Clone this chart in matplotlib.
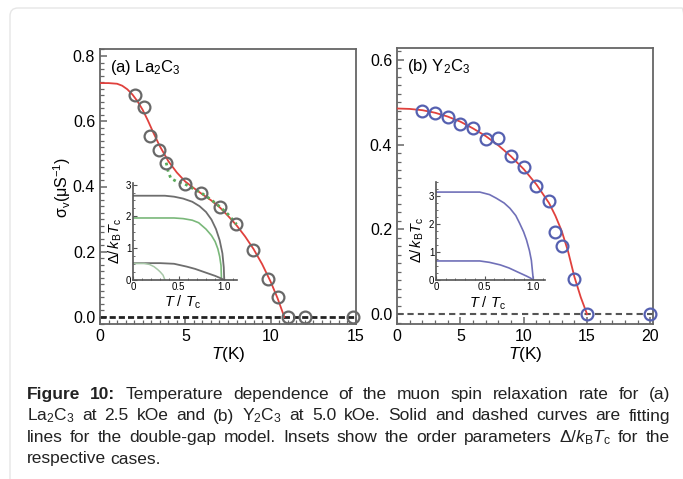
import matplotlib
matplotlib.use("Agg")
import matplotlib.pyplot as plt
from matplotlib import font_manager
from matplotlib.patches import FancyBboxPatch
from matplotlib.ticker import MultipleLocator
from matplotlib.transforms import IdentityTransform

plt.rcParams['font.family'] = ['Liberation Sans', 'DejaVu Sans']
plt.rcParams['mathtext.fontset'] = 'custom'
plt.rcParams['mathtext.rm'] = 'Liberation Sans'
plt.rcParams['mathtext.it'] = 'Liberation Sans:italic'
plt.rcParams['mathtext.bf'] = 'Liberation Sans:bold'

# ---- (a) La2C3 at 2.5 kOe ----
la_T = [2.06, 2.55, 2.94, 3.47, 3.88, 4.96, 5.92, 7.02, 7.98, 8.98, 9.84, 10.45, 11.0, 12.0, 14.8]
la_sigma = [0.680, 0.645, 0.556, 0.512, 0.473, 0.408, 0.381, 0.338, 0.284, 0.205, 0.116, 0.062,
            0.0, 0.0, 0.0]
la_fit_T = [0, 0.5, 1.0, 1.3, 1.6, 1.9, 2.2, 2.5, 2.8, 3.1, 3.5, 4.0, 4.5, 5.0, 5.5, 6.0,
            6.5, 7.0, 7.5, 8.0, 8.5, 9.0, 9.5, 10.0, 10.4, 10.8]
la_fit = [0.717, 0.717, 0.715, 0.709, 0.698, 0.682, 0.661, 0.635, 0.603, 0.568, 0.524, 0.478,
          0.443, 0.415, 0.395, 0.376, 0.358, 0.337, 0.310, 0.281, 0.247, 0.208, 0.162, 0.108,
          0.058, 0.0]
la_dot_T = [3.88, 4.0, 4.15, 4.5, 4.96, 5.5, 5.92, 6.5, 7.02, 7.5, 8.0]
la_dot = [0.473, 0.445, 0.425, 0.415, 0.408, 0.392, 0.381, 0.360, 0.338, 0.315, 0.284]

# inset (a): gap functions vs T/Tc
ia_t1 = [0, 0.35, 0.45, 0.55, 0.65, 0.73, 0.8, 0.86, 0.91, 0.95, 0.98, 0.995, 1.0]
ia_g1 = [2.65, 2.65, 2.62, 2.56, 2.46, 2.32, 2.14, 1.9, 1.6, 1.25, 0.84, 0.4, 0.0]
ia_t2 = [0, 0.45, 0.55, 0.65, 0.72, 0.8, 0.86, 0.9, 0.93, 0.95, 0.965, 0.97]
ia_g2 = [1.95, 1.95, 1.93, 1.88, 1.8, 1.6, 1.4, 1.21, 0.98, 0.74, 0.45, 0.0]
ia_t3 = [0, 0.3, 0.45, 0.59, 0.68, 0.77, 0.85, 0.9, 0.95, 1.0]
ia_g3 = [0.53, 0.53, 0.51, 0.42, 0.35, 0.26, 0.18, 0.13, 0.07, 0.0]
ia_t4 = [0, 0.12, 0.18, 0.23, 0.27, 0.3, 0.33, 0.35]
ia_g4 = [0.52, 0.52, 0.49, 0.42, 0.33, 0.25, 0.15, 0.0]

# ---- (b) Y2C3 at 5.0 kOe ----
y_T = [2, 3, 4, 5, 6, 7, 8, 9, 10, 11, 12, 12.5, 13, 14, 15, 20]
y_sigma = [0.480, 0.475, 0.464, 0.449, 0.439, 0.413, 0.415, 0.372, 0.348, 0.303, 0.267,
           0.193, 0.162, 0.083, 0.0, 0.0]
y_fit_T = [0, 1, 2, 3, 4, 5, 6, 7, 8, 9, 10, 11, 12, 12.5, 13, 13.5, 14, 14.5, 15]
y_fit = [0.485, 0.484, 0.481, 0.475, 0.466, 0.454, 0.438, 0.420, 0.398, 0.372, 0.342, 0.306,
         0.262, 0.232, 0.196, 0.148, 0.088, 0.040, 0.0]

ib_t1 = [0, 0.45, 0.55, 0.62, 0.7, 0.76, 0.82, 0.86, 0.9, 0.93, 0.96, 0.98, 1.0]
ib_g1 = [3.14, 3.14, 3.05, 2.92, 2.75, 2.56, 2.3, 2.02, 1.72, 1.43, 1.05, 0.7, 0.0]
ib_t2 = [0, 0.45, 0.55, 0.66, 0.75, 0.83, 0.88, 0.93, 0.97, 1.0]
ib_g2 = [0.68, 0.68, 0.63, 0.54, 0.43, 0.30, 0.22, 0.14, 0.07, 0.0]

caption = [
    "Figure 10: Temperature dependence of the muon spin relaxation rate for (a)",
    "La$_2$C$_3$ at 2.5 kOe and (b) Y$_2$C$_3$ at 5.0 kOe. Solid and dashed curves are fitting",
    "lines for the double-gap model. Insets show the order parameters "
    "Δ/$k_\\mathrm{B}T_\\mathrm{c}$ for the",
    "respective cases.",
]

W, H = 683, 479
fig = plt.figure(figsize=(W / 100, H / 100), dpi=100)


def add_axes_px(left, top, right, bottom):
    return fig.add_axes([left / W, 1 - bottom / H, (right - left) / W, (bottom - top) / H])


def style_main(ax):
    for s in ax.spines.values():
        s.set_color('#666666')
        s.set_linewidth(1.3)
    ax.tick_params(which='both', direction='in', top=False, right=False,
                   color='#666666', labelsize=11.5)
    ax.tick_params(which='major', length=5, width=1.1, pad=3.5)
    ax.tick_params(which='minor', length=3, width=0.9)


def style_inset(ax):
    ax.spines['top'].set_visible(False)
    ax.spines['right'].set_visible(False)
    for s in ('left', 'bottom'):
        ax.spines[s].set_color('#555555')
        ax.spines[s].set_linewidth(1.2)
    ax.patch.set_alpha(0)
    ax.tick_params(which='both', direction='in', labelsize=7, color='#555555', pad=1.2)
    ax.tick_params(which='major', length=3, width=0.8)
    ax.tick_params(which='minor', length=1.6, width=0.6)
    ax.set_xticks([0, 0.5, 1.0])
    ax.set_xticklabels(['0', '0.5', '1.0'])
    ax.xaxis.set_minor_locator(MultipleLocator(0.1))
    ax.yaxis.set_minor_locator(MultipleLocator(0.25))


# panel (a)
ax_a = add_axes_px(100, 49, 356, 324)
style_main(ax_a)
ax_a.axhline(0, color='#222222', lw=2, ls=(0, (2.2, 1.1)), zorder=2)
ax_a.plot(la_fit_T, la_fit, color='#e0413d', lw=1.3, zorder=3)
ax_a.plot(la_dot_T, la_dot, color='#5aaa5a', lw=2, ls=(0, (1, 1.3)), zorder=3)
ax_a.plot(la_T, la_sigma, 'o', mfc='none', mec='#686868', mew=1.6, ms=8.5, zorder=4,
          clip_on=False)
ax_a.set_xlim(0, 15)
ax_a.set_ylim(-0.0215, 0.8215)
ax_a.set_xticks([0, 5, 10, 15])
ax_a.set_yticks([0, 0.2, 0.4, 0.6, 0.8])
ax_a.set_yticklabels(['0.0', '0.2', '0.4', '0.6', '0.8'])
ax_a.xaxis.set_minor_locator(MultipleLocator(0.5))
ax_a.yaxis.set_minor_locator(MultipleLocator(0.02))
ax_a.text(0.04, 0.932, "(a) La$_2$C$_3$", transform=ax_a.transAxes, va='center', fontsize=12)

# panel (b)
ax_b = add_axes_px(397, 48, 653, 324)
style_main(ax_b)
ax_b.axhline(0, color='#555555', lw=1.5, ls=(0, (3, 2)), zorder=2)
ax_b.plot(y_fit_T, y_fit, color='#e0413d', lw=1.3, zorder=3)
ax_b.plot(y_T, y_sigma, 'o', mfc='none', mec='#5560b0', mew=1.6, ms=8.5, zorder=4,
          clip_on=False)
ax_b.set_xlim(0, 20.2)
ax_b.set_ylim(-0.023, 0.6276)
ax_b.set_xticks([0, 5, 10, 15, 20])
ax_b.set_yticks([0, 0.2, 0.4, 0.6])
ax_b.set_yticklabels(['0.0', '0.2', '0.4', '0.6'])
ax_b.xaxis.set_minor_locator(MultipleLocator(1))
ax_b.yaxis.set_minor_locator(MultipleLocator(0.02))
ax_b.text(0.038, 0.932, "(b) Y$_2$C$_3$", transform=ax_b.transAxes, va='center', fontsize=12)

# axis titles
fig.text(62 / W, 1 - 187 / H, "σ$_\\mathrm{v}$(μS$^{\\mathrm{-1}}$)", rotation=90,
         ha='center', va='center', fontsize=11.5)
fig.text(228 / W, 1 - 355 / H, "$T$(K)", ha='center', va='center', fontsize=12.5)
fig.text(525 / W, 1 - 355 / H, "$T$(K)", ha='center', va='center', fontsize=12.5)

# inset (a)
in_a = add_axes_px(133, 183, 237, 280)
style_inset(in_a)
in_a.plot(ia_t1, ia_g1, color='#6e6e6e', lw=1.3)
in_a.plot(ia_t2, ia_g2, color='#7ab87a', lw=1.2)
in_a.plot(ia_t3, ia_g3, color='#6e6e6e', lw=1.3)
in_a.plot(ia_t4, ia_g4, color='#a8c8a8', lw=1.1)
in_a.set_xlim(0, 1.14)
in_a.set_ylim(0, 3.05)
in_a.set_yticks([0, 1, 2, 3])
in_a.text(-0.17, 0.40, "$\\mathit{\\Delta}/\\,k_\\mathrm{B}T_\\mathrm{c}$", transform=in_a.transAxes,
          rotation=90, ha='center', va='center', fontsize=10.5)
in_a.text(0.48, -0.235, "$T\\ /\\ T_\\mathrm{c}$", transform=in_a.transAxes,
          ha='center', va='center', fontsize=10.5)

# inset (b)
in_b = add_axes_px(436, 182, 545, 280)
style_inset(in_b)
in_b.plot(ib_t1, ib_g1, color='#7070b8', lw=1.2)
in_b.plot(ib_t2, ib_g2, color='#7070b8', lw=1.2)
in_b.set_xlim(0, 1.12)
in_b.set_ylim(0, 3.5)
in_b.set_yticks([0, 1, 2, 3])
in_b.text(-0.175, 0.41, "$\\mathit{\\Delta}/\\,k_\\mathrm{B}T_\\mathrm{c}$", transform=in_b.transAxes,
          rotation=90, ha='center', va='center', fontsize=10.5)
in_b.text(0.47, -0.235, "$T\\ /\\ T_\\mathrm{c}$", transform=in_b.transAxes,
          ha='center', va='center', fontsize=10.5)

# faint rounded frame around the figure
fig.patches.append(FancyBboxPatch((10, -30), 680, 479 - 8 + 30,
                                  boxstyle="round,pad=0,rounding_size=8",
                                  transform=IdentityTransform(), fill=False,
                                  ec='#e6e6e6', lw=1, figure=fig))

# justified caption
try:
    font_manager.findfont('Liberation Sans Narrow', fallback_to_default=False)
    cap_family = ['Liberation Sans Narrow', 'DejaVu Sans']
except ValueError:
    cap_family = ['Liberation Sans', 'DejaVu Sans']

renderer = fig.canvas.get_renderer()
x_left, x_right = 27, 670
baselines = [399, 420.5, 442, 463.5]
for i, line in enumerate(caption):
    words = line.split(' ')
    texts = []
    for j, w in enumerate(words):
        weight = 'bold' if (i == 0 and j < 2) else 'normal'
        texts.append(fig.text(0, 1 - baselines[i] / H, w, fontsize=12.5, family=cap_family,
                              fontweight=weight, va='baseline', ha='left', color='#222222'))
    widths = [t.get_window_extent(renderer).width for t in texts]
    if i < len(caption) - 1:
        gap = (x_right - x_left - sum(widths)) / (len(words) - 1)
    else:
        gap = 4.5
    x = x_left
    for t, w in zip(texts, widths):
        t.set_x(x / W)
        x += w + gap

fig.savefig('out.png', dpi=100)
